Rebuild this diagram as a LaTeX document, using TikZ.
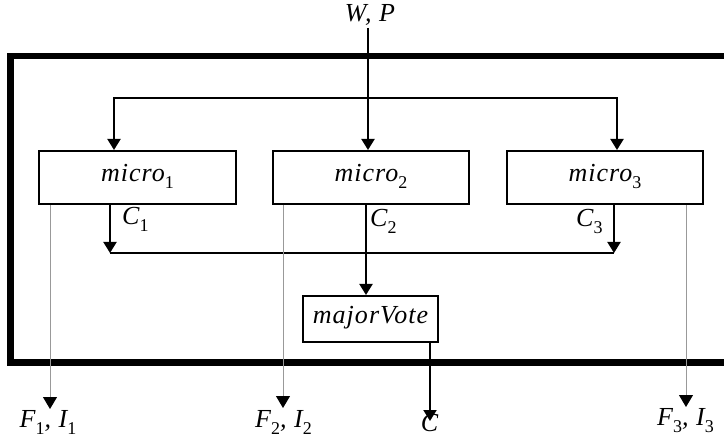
\documentclass[tikz,border=0pt]{standalone}
\usepackage{fontspec}
\setmainfont{Liberation Serif}
\newfontfamily\labelfont{Liberation Serif}[LetterSpace=4]
\usetikzlibrary{arrows.meta}
% upright, lowered index digit
\newcommand{\lowsub}[1]{\raisebox{-7pt}{\fontsize{18}{18}\selectfont\upshape #1}}
\tikzset{
  lbl/.style={font=\labelfont\itshape\fontsize{26}{30}\selectfont, inner sep=0pt},
  block/.style={draw, line width=2pt, lbl, minimum height=53pt,
                text height=12pt, text depth=3pt},
  flow/.style={line width=2pt, -{Triangle[width=13pt,length=11pt]}},
  bus/.style={line width=2pt},
  tap/.style={line width=1pt, draw=black!40,
              -{Triangle[width=14pt,length=12pt,color=black]}},
}
\begin{document}
\begin{tikzpicture}[x=1pt,y=-1pt]
  \useasboundingbox (0,0) rectangle (724,441);
  \fill[white] (0,0) rectangle (724,441);
  \clip (0,0) rectangle (724,441);

  % system boundary (open to the right)
  \draw[line width=6.5pt] (10.5,56) rectangle (740,362.5);

  % processing blocks
  \node[block, minimum width=197pt] (m1) at (137.5,177.5) {micro\lowsub{1}};
  \node[block, minimum width=196pt] (m2) at (371,177.5) {micro\lowsub{2}};
  \node[block, minimum width=196pt] (m3) at (605,177.5) {micro\lowsub{3}};
  \node[block, minimum width=135pt, minimum height=46pt] (mv) at (370.5,319) {majorVote};

  % labels
  \node[lbl, anchor=base] (wp) at (370,22) {W, P};
  \node[lbl, anchor=base west] (c1l) at (122,225) {C\lowsub{1}};
  \node[lbl, anchor=base west] (c2l) at (370,227) {C\lowsub{2}};
  \node[lbl, anchor=base west] (c3l) at (576,227) {C\lowsub{3}};
  \node[lbl, anchor=base] (f1) at (48,427) {F\lowsub{1}, I\lowsub{1}};
  \node[lbl, anchor=base] (f2) at (283.5,427) {F\lowsub{2}, I\lowsub{2}};
  \node[lbl, anchor=base] (f3) at (685.5,425) {F\lowsub{3}, I\lowsub{3}};
  \node[lbl, anchor=base] (cout) at (429.5,431.5) {C};

  % input distribution
  \coordinate (in) at (368,28);
  \coordinate (split) at (368,98);
  \coordinate (t1) at (114,98);
  \coordinate (t3) at (617,98);
  \draw[flow] (in) -- (in |- m2.north);
  \draw[flow] (split) -| (t1 |- m1.north);
  \draw[flow] (split) -| (t3 |- m3.north);

  % outputs collected for the vote
  \coordinate (c1) at (110,253);
  \coordinate (c3) at (614,253);
  \coordinate (c2) at (366,253);
  \draw[flow] (c1 |- m1.south) -- (c1);
  \draw[flow] (c3 |- m3.south) -- (c3);
  \draw[bus] (c1) -- (c3);
  \draw[flow] (c2 |- m2.south) -- (c2 |- mv.north);

  % voted result
  \coordinate (vout) at (430,421);
  \draw[flow] (vout |- mv.south) -- (vout);

  % side outputs of each block
  \coordinate (s1) at (50,409);
  \coordinate (s2) at (283,408);
  \coordinate (s3) at (686,407);
  \draw[tap] (s1 |- m1.south) -- (s1);
  \draw[tap] (s2 |- m2.south) -- (s2);
  \draw[tap] (s3 |- m3.south) -- (s3);
\end{tikzpicture}
\end{document}
